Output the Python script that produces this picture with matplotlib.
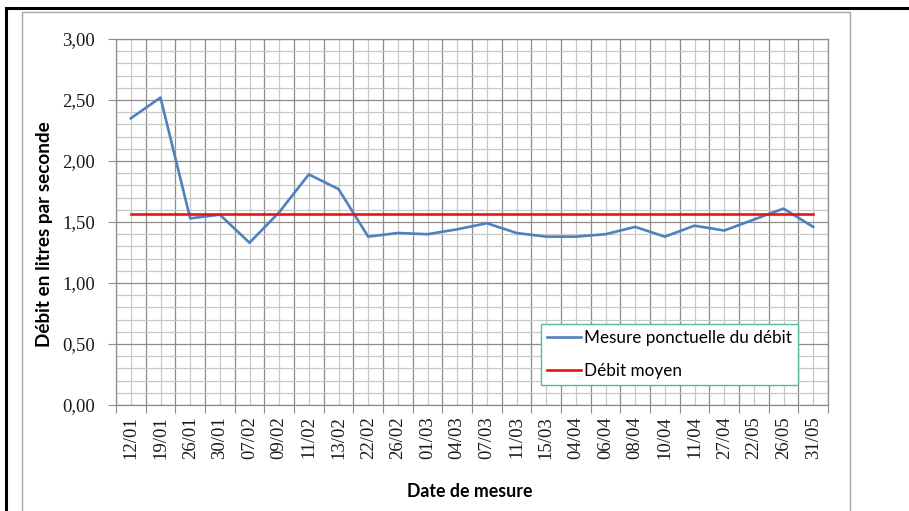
import numpy as np, matplotlib
matplotlib.use('Agg')
import matplotlib.pyplot as plt
from matplotlib.lines import Line2D
from matplotlib.patches import Rectangle
from matplotlib.ticker import MultipleLocator, FixedLocator, FuncFormatter

# ── data ──
dates = ['12/01', '19/01', '26/01', '30/01', '07/02', '09/02', '11/02', '13/02',
         '22/02', '26/02', '01/03', '04/03', '07/03', '11/03', '15/03', '04/04',
         '06/04', '08/04', '10/04', '11/04', '27/04', '22/05', '26/05', '31/05']
debit = [2.35, 2.52, 1.53, 1.56, 1.33, 1.58, 1.89, 1.77, 1.38, 1.41, 1.40, 1.44,
         1.49, 1.41, 1.38, 1.38, 1.40, 1.46, 1.38, 1.47, 1.43, 1.52, 1.61, 1.46]
debit_moyen = [1.565] * len(dates)

W, H = 909, 511
fig = plt.figure(figsize=(W / 100, H / 100), dpi=100)
fig.patch.set_facecolor('white')

# page border (black) and chart-area frame (grey)
fig.add_artist(Line2D([6 / W, 1], [1 - 8 / H, 1 - 8 / H], color='black', lw=2.2,
                      transform=fig.transFigure))
fig.add_artist(Line2D([6 / W, 6 / W], [0, 1 - 8 / H], color='black', lw=2.2,
                      transform=fig.transFigure))
fig.add_artist(Rectangle((22 / W, -0.05), (850 - 22) / W, 1.05 - 12.5 / H,
                         fill=False, edgecolor='#a6a6a6', lw=1.0,
                         transform=fig.transFigure))

ax = fig.add_axes([116 / W, (H - 405) / H, (828 - 116) / W, (405 - 39) / H])

x = np.arange(len(dates))
ax.plot(x, debit, color='#4F81BD', lw=1.9, zorder=3,
        label='Mesure ponctuelle du débit')
ax.plot(x, debit_moyen, color='#EE1111', lw=1.9, zorder=3, label='Débit moyen')

ax.set_xlim(-0.5, len(dates) - 0.5)
ax.set_ylim(0, 3)

# x: ticks on category boundaries, labels at centres
ax.xaxis.set_major_locator(FixedLocator(np.arange(-0.5, len(dates), 1.0)))
ax.xaxis.set_minor_locator(FixedLocator(x))
ax.set_xticklabels([])
ax.set_xticks(x, dates, minor=True)
ax.tick_params(axis='x', which='major', length=6, color='#8c8c8c', direction='out')
ax.tick_params(axis='x', which='minor', length=0, pad=8, labelrotation=90)

ax.yaxis.set_major_locator(MultipleLocator(0.5))
ax.yaxis.set_minor_locator(MultipleLocator(0.1))
ax.yaxis.set_major_formatter(FuncFormatter(lambda v, p: f'{v:.2f}'.replace('.', ',')))
ax.tick_params(axis='y', which='major', length=6, color='#8c8c8c', pad=9)
ax.tick_params(axis='y', which='minor', length=0)

for lab in ax.get_xticklabels(minor=True) + ax.get_yticklabels():
    lab.set_fontfamily('Liberation Serif')
    lab.set_fontsize(13.5)
    lab.set_color('#1a1a1a')

ax.grid(which='major', color='#8c8c8c', lw=0.9, zorder=1)
ax.grid(which='minor', color='#c8c8c8', lw=0.9, zorder=1)
ax.set_axisbelow(True)
for s in ax.spines.values():
    s.set_color('#8c8c8c')
    s.set_linewidth(0.9)

ax.set_ylabel('Débit en litres par seconde', fontfamily='Lato', fontweight='bold',
              fontsize=13.6)
ax.yaxis.set_label_coords(-0.088, 0.467)
ax.set_xlabel('Date de mesure', fontfamily='Lato', fontweight='bold',
              fontsize=12.8)
ax.xaxis.set_label_coords((470 - 116) / (828 - 116), -(483 - 405) / (405 - 39))

leg = ax.legend(loc='upper left', bbox_to_anchor=(541 / W, 1 - 324 / H),
                bbox_transform=fig.transFigure, frameon=True, fancybox=False,
                borderaxespad=0, handlelength=2.0, handletextpad=0.15,
                labelspacing=1.0, borderpad=0.35,
                prop={'family': 'Lato', 'size': 12.3})
leg.get_frame().set_edgecolor('#55b8a0')
leg.get_frame().set_linewidth(1.0)
leg.get_frame().set_alpha(1)

fig.savefig('out.png', dpi=100, facecolor='white')
